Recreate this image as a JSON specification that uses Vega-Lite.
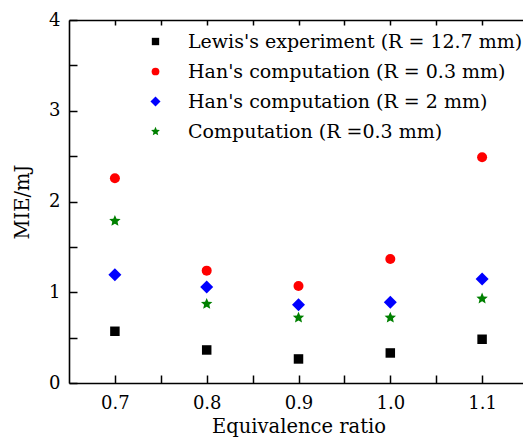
{
  "$schema": "https://vega.github.io/schema/vega-lite/v6.json",
  "width": 459,
  "height": 363,
  "autosize": {"type": "none"},
  "padding": {"left": 69, "top": 20, "right": 0, "bottom": 65},
  "config": {
    "view": {"stroke": null},
    "font": "DejaVu Serif",
    "axis": {
      "domainColor": "black",
      "domainWidth": 1.6,
      "tickColor": "black",
      "tickWidth": 1.5,
      "labelColor": "black",
      "titleColor": "black",
      "labelFont": "DejaVu Serif",
      "titleFont": "DejaVu Serif",
      "labelFontSize": 18,
      "titleFontSize": 19.5,
      "titleFontWeight": "normal",
      "grid": false
    }
  },
  "data": {
    "values": [
      {"phi": 0.7, "mie": 0.57, "series": "Lewis's experiment (R = 12.7 mm)"},
      {"phi": 0.8, "mie": 0.364, "series": "Lewis's experiment (R = 12.7 mm)"},
      {"phi": 0.9, "mie": 0.265, "series": "Lewis's experiment (R = 12.7 mm)"},
      {"phi": 1.0, "mie": 0.331, "series": "Lewis's experiment (R = 12.7 mm)"},
      {"phi": 1.1, "mie": 0.482, "series": "Lewis's experiment (R = 12.7 mm)"},
      {"phi": 0.7, "mie": 2.257, "series": "Han's computation (R = 0.3 mm)"},
      {"phi": 0.8, "mie": 1.238, "series": "Han's computation (R = 0.3 mm)"},
      {"phi": 0.9, "mie": 1.069, "series": "Han's computation (R = 0.3 mm)"},
      {"phi": 1.0, "mie": 1.367, "series": "Han's computation (R = 0.3 mm)"},
      {"phi": 1.1, "mie": 2.488, "series": "Han's computation (R = 0.3 mm)"},
      {"phi": 0.7, "mie": 1.194, "series": "Han's computation (R = 2 mm)"},
      {"phi": 0.8, "mie": 1.058, "series": "Han's computation (R = 2 mm)"},
      {"phi": 0.9, "mie": 0.863, "series": "Han's computation (R = 2 mm)"},
      {"phi": 1.0, "mie": 0.89, "series": "Han's computation (R = 2 mm)"},
      {"phi": 1.1, "mie": 1.147, "series": "Han's computation (R = 2 mm)"},
      {"phi": 0.7, "mie": 1.786, "series": "Computation (R =0.3 mm)"},
      {"phi": 0.8, "mie": 0.871, "series": "Computation (R =0.3 mm)"},
      {"phi": 0.9, "mie": 0.72, "series": "Computation (R =0.3 mm)"},
      {"phi": 1.0, "mie": 0.72, "series": "Computation (R =0.3 mm)"},
      {"phi": 1.1, "mie": 0.93, "series": "Computation (R =0.3 mm)"}
    ]
  },
  "layer": [
    {
      "mark": {"type": "point", "filled": true, "opacity": 1, "strokeWidth": 0, "size": 100},
      "encoding": {
        "x": {
          "field": "phi", "type": "quantitative",
          "scale": {"domain": [0.65, 1.15], "nice": false, "zero": false},
          "axis": {
            "orient": "bottom",
            "title": "Equivalence ratio",
            "values": [0.7, 0.75, 0.8, 0.85, 0.9, 0.95, 1.0, 1.05, 1.1],
            "labelExpr": "abs(datum.value*10 - round(datum.value*10)) > 0.01 ? '' : format(datum.value, '.1f')",
            "tickSize": -8,
            "labelPadding": 19,
            "titlePadding": 5
          }
        },
        "y": {
          "field": "mie", "type": "quantitative",
          "scale": {"domain": [0, 4], "nice": false},
          "axis": {
            "title": "MIE/mJ",
            "values": [0, 0.5, 1, 1.5, 2, 2.5, 3, 3.5, 4],
            "labelExpr": "datum.value % 1 ? '' : format(datum.value, 'd')",
            "tickSize": -8,
            "labelPadding": 17,
            "titlePadding": 16
          }
        },
        "color": {
          "field": "series", "type": "nominal",
          "scale": {
            "domain": ["Lewis's experiment (R = 12.7 mm)", "Han's computation (R = 0.3 mm)", "Han's computation (R = 2 mm)", "Computation (R =0.3 mm)"],
            "range": ["#000000", "#ff0000", "#0000ff", "#008000"]
          },
          "legend": {
            "orient": "none",
            "legendX": 77,
            "legendY": 12,
            "title": null,
            "labelFont": "DejaVu Serif",
            "labelFontSize": 19,
            "labelColor": "black",
            "labelLimit": 500,
            "labelOffset": 23,
            "rowPadding": 10,
            "symbolSize": 60,
            "symbolStrokeWidth": 0
          }
        },
        "shape": {
          "field": "series", "type": "nominal",
          "scale": {
            "domain": ["Lewis's experiment (R = 12.7 mm)", "Han's computation (R = 0.3 mm)", "Han's computation (R = 2 mm)", "Computation (R =0.3 mm)"],
            "range": [
              "M-0.95,-0.95L0.95,-0.95L0.95,0.95L-0.95,0.95Z",
              "circle",
              "M-1.3,0L0,-1.3L1.3,0L0,1.3Z",
              "M0,-1.2L0.323,-0.445L1.141,-0.371L0.523,0.17L0.705,0.971L0,0.55L-0.705,0.971L-0.523,0.17L-1.141,-0.371L-0.323,-0.445Z"
            ]
          }
        }
      }
    },
    {
      "mark": {"type": "point", "opacity": 0},
      "encoding": {
        "x": {
          "field": "phi", "type": "quantitative",
          "axis": {
            "orient": "top",
            "title": null,
            "values": [0.7, 0.75, 0.8, 0.85, 0.9, 0.95, 1.0, 1.05, 1.1],
            "labels": false,
            "tickSize": -5
          }
        },
        "y": {"field": "mie", "type": "quantitative"}
      }
    }
  ],
  "resolve": {"axis": {"x": "independent"}}
}
